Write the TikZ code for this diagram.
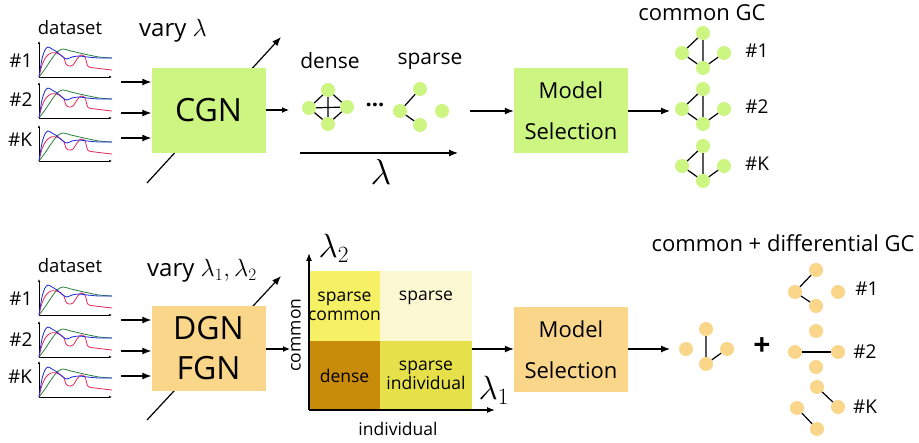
\documentclass[tikz,border=0pt]{standalone}
\usepackage{fontspec}
\setmainfont{Open Sans}
\usetikzlibrary{arrows.meta}
\definecolor{gfill}{RGB}{205,245,130}
\definecolor{ofill}{RGB}{249,214,138}
\definecolor{cellA}{RGB}{245,240,100}
\definecolor{cellB}{RGB}{252,248,210}
\definecolor{cellC}{RGB}{200,140,10}
\definecolor{cellD}{RGB}{230,225,75}
\definecolor{cblue}{RGB}{30,40,220}
\definecolor{cred}{RGB}{230,40,90}
\definecolor{cgreen}{RGB}{40,130,60}
\newcommand\dsplot[2]{%
\begin{scope}[shift={(#1,#2)},yscale=-1]
\draw[line width=0.6pt,-{Latex[length=3pt,width=2.5pt]}] (0,0) -- (0,36);
\draw[line width=0.6pt,-{Latex[length=3pt,width=2.5pt]}] (0,0) -- (73,0);
\draw[cgreen,line width=0.8pt] plot[smooth] coordinates {(0,0)(6,8)(12,17)(18,25)(24,28)(32,26)(45,23)(60,20)(73,19)};
\draw[cred,line width=0.8pt] plot[smooth] coordinates {(0,0)(3,12)(7,20)(12,24)(17,24)(22,22)(25,19)(27,13)(30,11)(34,12)(38,18)(42,22)(46,20)(48,13)(50,10)(60,8.5)(73,7)};
\draw[cblue,line width=0.8pt] plot[smooth] coordinates {(0,0)(3,18)(6,27)(9,30)(13,28)(18,25)(24,20)(28,18)(33,20)(40,21)(48,20)(60,19)(73,19)};
\end{scope}}
\begin{document}
\begin{tikzpicture}[x=1pt,y=-1pt,
  arr/.style={line width=1.2pt,-{Latex[length=9pt,width=7pt]}},
  bigbox/.style={minimum width=114pt,minimum height=85pt,inner sep=0pt},
  gn/.style={circle,fill=gfill,minimum size=14pt,inner sep=0pt},
  on/.style={circle,fill=ofill,minimum size=14pt,inner sep=0pt},
  ed/.style={line width=1.2pt},
  lbl/.style={font=\fontsize{18.5}{21}\selectfont},
  hl/.style={font=\fontsize{19}{21}\selectfont},
  biglam/.style={font=\fontsize{24}{26}\selectfont,inner sep=0pt},
  cell/.style={inner sep=0pt,align=center,font=\fontsize{17.5}{19}\selectfont}]
\useasboundingbox (0,0) rectangle (919,443);
\fill[white] (0,0) rectangle (919,443);

% ---------------- top row ----------------
\node[lbl] (ds1) at (70,28) {dataset};
\dsplot{39}{77}\dsplot{39}{118}\dsplot{39}{161}
\node[hl] (h11) at (21,61) {\#1};
\node[hl] (h12) at (21,100) {\#2};
\node[hl] (h1k) at (20,140) {\#K};

\coordinate (d1s) at (147,183);
\coordinate (d1e) at (281,37);
\draw[arr] (d1s) -- (d1e);
\node[bigbox,fill=gfill,font=\fontsize{32}{36}\selectfont] (cgn) at (208.5,110.5) {CGN};
\node[font=\fontsize{24}{26}\selectfont] (vary1) at (173,31) {vary $\lambda$};
\coordinate (a11) at (121,82);
\coordinate (a12) at (121,113);
\coordinate (a13) at (121,138);
\draw[arr] (a11) -- (a11 -| cgn.west);
\draw[arr] (a12) -- (a12 -| cgn.west);
\draw[arr] (a13) -- (a13 -| cgn.west);
\coordinate (c1o) at (289,110);
\draw[line width=1.2pt,-{Latex[length=7pt,width=6pt]}] (cgn.east |- c1o) -- (c1o);

% dense graph
\node[font=\fontsize{21}{23}\selectfont] (dense) at (330,61) {dense};
\node[gn] (da) at (309,108) {};
\node[gn] (db) at (328,90) {};
\node[gn] (dc) at (347,107) {};
\node[gn] (dd) at (328,124) {};
\draw[ed] (da) -- (db) (db) -- (dc) (dc) -- (dd) (dd) -- (da) (da) -- (dc) (db) -- (dd);
\node[font=\fontsize{22}{22}\selectfont\bfseries] (dots) at (375,105) {...};
% sparse graph
\node[font=\fontsize{21}{23}\selectfont] (sparse) at (430,61) {sparse};
\node[gn] (sa) at (400,111) {};
\node[gn] (sb) at (420,89) {};
\node[gn] (sc) at (420,125) {};
\node[gn] (sd) at (442,111) {};
\draw[ed] (sa) -- (sb) (sa) -- (sc);
\coordinate (l1s) at (300,153);
\coordinate (l1e) at (458,153);
\draw[arr] (l1s) -- (l1e);
\node[biglam,scale=1.45] (lam) at (381,172) {$\lambda$};

\node[bigbox,fill=gfill,align=center,font=\fontsize{22}{41}\selectfont] (ms1) at (571,110.5) {Model\\Selection};
\coordinate (m1i) at (470,111);
\draw[arr] (m1i) -- (m1i -| ms1.west);
\coordinate (m1o) at (670,111);
\draw[arr] (ms1.east |- m1o) -- (m1o);

\node[font=\fontsize{22}{24}\selectfont] (cgc) at (702,13) {common GC};
\foreach \k/\y/\t in {1/33/\#1,2/89/\#2,3/146/\#K}{
  \node[gn] (t\k) at (703,\y) {};
  \node[gn] (l\k) at (682,\y+20) {};
  \node[gn] (b\k) at (703,\y+35) {};
  \node[gn] (r\k) at (724,\y+20) {};
  \draw[ed] (t\k) -- (l\k) (t\k) -- (b\k) (l\k) -- (b\k) (b\k) -- (r\k);
  \node[hl] (g\k) at (757,\y+18) {\t};
}

% ---------------- bottom row ----------------
\node[lbl] (ds2) at (70,266) {dataset};
\dsplot{39}{315}\dsplot{39}{357}\dsplot{39}{397}
\node[hl] (h21) at (21,299) {\#1};
\node[hl] (h22) at (21,340) {\#2};
\node[hl] (h2k) at (20,377) {\#K};

\coordinate (d2s) at (147,420);
\coordinate (d2e) at (281,276);
\draw[arr] (d2s) -- (d2e);
\node[bigbox,fill=ofill,align=center,font=\fontsize{32}{40}\selectfont] (dgn) at (208.5,348.5) {DGN\\FGN};
\node[font=\fontsize{24}{26}\selectfont] (vary2) at (202,271) {vary $\lambda_1,\lambda_2$};
\coordinate (a21) at (121,320);
\coordinate (a22) at (121,351);
\coordinate (a23) at (121,376);
\draw[arr] (a21) -- (a21 -| dgn.west);
\draw[arr] (a22) -- (a22 -| dgn.west);
\draw[arr] (a23) -- (a23 -| dgn.west);
\coordinate (c2o) at (290,349);
\draw[line width=1.2pt,-{Latex[length=7pt,width=6pt]}] (dgn.east |- c2o) -- (c2o);

% grid
\node[cell,fill=cellA,minimum width=71pt,minimum height=70pt] (csc) at (344.5,306) {sparse\\common};
\node[cell,fill=cellB,minimum width=92pt,minimum height=70pt] (cs) at (426,306) {sparse\\[-4pt]\strut};
\node[cell,fill=cellC,minimum width=71pt,minimum height=69pt] (cd) at (344.5,375.5) {dense};
\node[cell,fill=cellD,minimum width=92pt,minimum height=69pt] (csi) at (426,375.5) {sparse\\individual};
\coordinate (ax0) at (309,410);
\coordinate (axy) at (309,253);
\coordinate (axx) at (495,410);
\draw[line width=1.2pt,-{Latex[length=8pt,width=6pt]}] (ax0) -- (axy);
\draw[line width=1.2pt,-{Latex[length=8pt,width=6pt]}] (ax0) -- (axx);
\node[biglam,scale=1.35] (lam2) at (334,248) {$\lambda_2$};
\node[biglam,scale=1.35] (lam1) at (494,390) {$\lambda_1$};
\node[cell,rotate=90] (common) at (296,335) {common};
\node[cell] (indiv) at (398,429) {individual};

\node[bigbox,fill=ofill,align=center,font=\fontsize{22}{41}\selectfont] (ms2) at (571,349.5) {Model\\Selection};
\coordinate (m2i) at (472,349);
\draw[arr] (m2i) -- (m2i -| ms2.west);
\coordinate (m2o) at (670,349);
\draw[arr] (ms2.east |- m2o) -- (m2o);

\node[font=\fontsize{22}{24}\selectfont] (cdgc) at (783,243) {common + differential GC};
\node[on] (ca) at (686,349) {};
\node[on] (cb) at (706,329) {};
\node[on] (cc) at (706,364) {};
\node[on] (cdn) at (727,349) {};
\draw[ed] (cb) -- (cc) (cc) -- (cdn);
\node[font=\fontsize{30}{30}\selectfont\bfseries] (plus) at (762,347) {+};
% diff #1
\node[on] (e1t) at (816,270) {};
\node[on] (e1l) at (795,292) {};
\node[on] (e1b) at (816,306) {};
\node[on] (e1r) at (838,292) {};
\draw[ed] (e1l) -- (e1t) (e1l) -- (e1b);
% diff #2
\node[on] (e2t) at (816,331) {};
\node[on] (e2l) at (795,352) {};
\node[on] (e2r) at (838,352) {};
\node[on] (e2b) at (816,367) {};
\draw[ed] (e2l) -- (e2r);
% diff #K
\node[on] (e3t) at (817,387) {};
\node[on] (e3r) at (838,407) {};
\node[on] (e3l) at (797,408) {};
\node[on] (e3b) at (817,429) {};
\draw[ed] (e3t) -- (e3r) (e3l) -- (e3b);
\node[hl] (f1) at (867,289) {\#1};
\node[hl] (f2) at (865,352) {\#2};
\node[hl] (f3) at (865,407) {\#K};
\end{tikzpicture}
\end{document}
